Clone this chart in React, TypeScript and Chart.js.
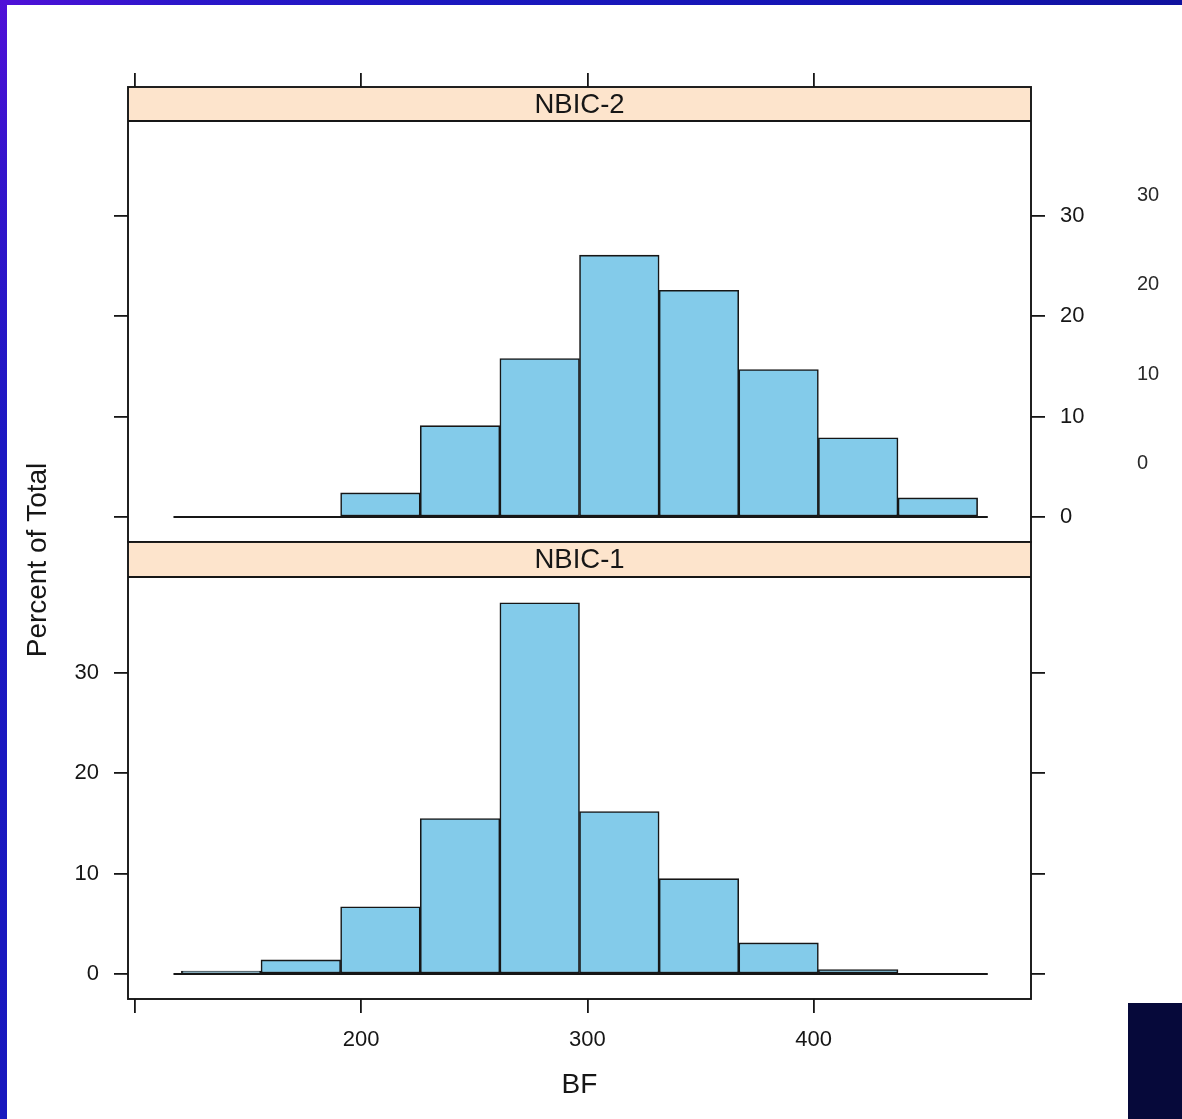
import React, { useEffect, useRef } from 'react';
import { Chart, registerables } from 'chart.js';

Chart.register(...registerables);

// ---- data ----
const BIN_EDGES = [120.5, 155.7, 190.9, 226.1, 261.3, 296.5, 331.7, 366.9, 402.1, 437.3, 472.5];
const NBIC2_PERCENT = [0, 0, 2.4, 9.1, 15.8, 26.1, 22.6, 14.7, 7.9, 1.9];
const NBIC1_PERCENT = [0.3, 1.4, 6.7, 15.5, 37.0, 16.2, 9.5, 3.1, 0.45, 0];
const BASELINE_RANGE = [117, 477];
const X_TICKS = [100, 200, 300, 400];
const X_TICK_LABELS = ['', '200', '300', '400'];
const Y_TICKS = [0, 10, 20, 30];
const PANEL_LABELS = ['NBIC-2', 'NBIC-1'];
const X_TITLE = 'BF';
const Y_TITLE = 'Percent of Total';
const GHOST_TICK_LABELS = ['30', '20', '10', '0'];

const FONT = '"Liberation Sans", Arial, Helvetica, sans-serif';
const INK = '#161616';
const BAR_FILL = '#83CBEA';
const STRIP_FILL = '#FDE4CC';

const W = 1182;
const H = 1119;

const latticePlugin = {
  id: 'lattice',
  afterDatasetsDraw(chart: any, _args: any, opts: any) {
    const { ctx, chartArea: a } = chart;
    ctx.save();
    const sh = opts.stripHeight;
    ctx.fillStyle = STRIP_FILL;
    ctx.fillRect(a.left, a.top, a.right - a.left, sh);
    ctx.strokeStyle = INK;
    ctx.lineWidth = 1.9;
    ctx.beginPath();
    ctx.moveTo(a.left, a.top + sh);
    ctx.lineTo(a.right, a.top + sh);
    ctx.stroke();
    ctx.strokeRect(a.left, a.top, a.right - a.left, a.bottom - a.top);
    ctx.fillStyle = INK;
    ctx.font = `27.5px ${FONT}`;
    ctx.textAlign = 'center';
    ctx.textBaseline = 'middle';
    ctx.fillText(opts.label, (a.left + a.right) / 2, a.top + sh / 2 + 1);
    ctx.restore();
  },
  afterDraw(chart: any, _args: any, opts: any) {
    if (!opts.extras) return;
    const { ctx } = chart;
    ctx.save();
    ctx.fillStyle = INK;
    ctx.font = `28px ${FONT}`;
    ctx.textAlign = 'center';
    ctx.textBaseline = 'middle';
    ctx.translate(38, 560);
    ctx.rotate(-Math.PI / 2);
    ctx.fillText(Y_TITLE, 0, 0);
    ctx.restore();

    ctx.save();
    ctx.fillStyle = '#2a2a2a';
    ctx.font = `20px ${FONT}`;
    ctx.textAlign = 'left';
    ctx.textBaseline = 'middle';
    GHOST_TICK_LABELS.forEach((t, i) => {
      ctx.fillText(t, 1137, 195 + i * 89.5);
    });
    ctx.restore();
  },
};

function tickMarkGrid() {
  return {
    drawOnChartArea: false,
    drawTicks: true,
    tickLength: 14,
    color: INK,
    lineWidth: 1.8,
    offset: false,
  };
}

function makeConfig(isTop: boolean): any {
  const values = isTop ? NBIC2_PERCENT : NBIC1_PERCENT;
  const centers = values.map((_, i) => (BIN_EDGES[i] + BIN_EDGES[i + 1]) / 2);
  // pixel layout of the panel frame
  const areaTop = isTop ? 87 : 542;
  const areaBottom = isTop ? 542 : 999;
  const zeroPx = isTop ? 517 : 974;
  const pxPerUnit = 10.033;
  const yMin = -(areaBottom - zeroPx) / pxPerUnit;
  const yMax = (zeroPx - areaTop) / pxPerUnit;
  const xMin = 96.9;
  const xMax = 496.1;
  const leftW = 128;
  const rightW = W - 1031;

  const yTicks = (s: any) => {
    s.ticks = Y_TICKS.map((v) => ({ value: v }));
  };
  const tickFont = { family: FONT, size: 22 };

  return {
    type: 'bar',
    data: {
      datasets: [
        {
          type: 'line',
          data: BASELINE_RANGE.map((x) => ({ x, y: 0 })),
          borderColor: INK,
          borderWidth: 1.8,
          pointRadius: 0,
          order: 0,
        },
        {
          type: 'bar',
          data: centers.map((x, i) => ({ x, y: values[i] })),
          backgroundColor: BAR_FILL,
          borderColor: INK,
          borderWidth: 1.6,
          borderSkipped: false,
          barPercentage: 1,
          categoryPercentage: 1,
          order: 1,
        },
      ],
    },
    options: {
      responsive: false,
      animation: false,
      events: [],
      layout: {
        padding: isTop
          ? { left: 0, right: 0, top: 0, bottom: H - areaBottom }
          : { left: 0, right: 0, top: areaTop, bottom: 0 },
      },
      plugins: {
        legend: { display: false },
        tooltip: { enabled: false },
        lattice: {
          label: isTop ? PANEL_LABELS[0] : PANEL_LABELS[1],
          stripHeight: isTop ? 34 : 35,
          extras: !isTop,
        },
      },
      scales: {
        x: {
          type: 'linear',
          position: isTop ? 'top' : 'bottom',
          min: xMin,
          max: xMax,
          offset: false,
          afterBuildTicks: (s: any) => {
            s.ticks = X_TICKS.map((v) => ({ value: v }));
          },
          afterFit: (s: any) => {
            s.height = isTop ? areaTop : H - areaBottom;
          },
          grid: tickMarkGrid(),
          border: { display: false },
          ticks: {
            display: !isTop,
            autoSkip: false,
            maxRotation: 0,
            padding: 14,
            color: INK,
            font: tickFont,
            callback: (_v: any, i: number) => X_TICK_LABELS[i],
          },
          title: {
            display: !isTop,
            text: X_TITLE,
            color: INK,
            font: { family: FONT, size: 28 },
            padding: { top: 0, bottom: 17 },
          },
        },
        y: {
          type: 'linear',
          position: 'left',
          min: yMin,
          max: yMax,
          afterBuildTicks: yTicks,
          afterFit: (s: any) => {
            s.width = leftW;
          },
          grid: tickMarkGrid(),
          border: { display: false },
          ticks: {
            display: !isTop,
            padding: 15,
            color: INK,
            font: tickFont,
          },
        },
        y2: {
          type: 'linear',
          position: 'right',
          min: yMin,
          max: yMax,
          afterBuildTicks: yTicks,
          afterFit: (s: any) => {
            s.width = rightW;
          },
          grid: tickMarkGrid(),
          border: { display: false },
          ticks: {
            display: isTop,
            padding: 15,
            color: INK,
            font: tickFont,
          },
        },
      },
    },
    plugins: [latticePlugin],
  };
}

export default function App() {
  const topRef = useRef<HTMLCanvasElement | null>(null);
  const botRef = useRef<HTMLCanvasElement | null>(null);

  useEffect(() => {
    const charts: Chart[] = [];
    if (topRef.current) charts.push(new Chart(topRef.current, makeConfig(true)));
    if (botRef.current) charts.push(new Chart(botRef.current, makeConfig(false)));
    return () => charts.forEach((c) => c.destroy());
  }, []);

  const abs = (extra: React.CSSProperties): React.CSSProperties => ({ position: 'absolute', ...extra });

  return (
    <div style={abs({ left: 0, top: 0, width: W, height: H, background: '#ffffff', overflow: 'hidden' })}>
      <div
        style={abs({
          left: 0,
          top: 0,
          width: W,
          height: 5,
          background: 'linear-gradient(to right, #5010D8 0%, #2C16CA 15%, #1A18BE 40%, #1414B2 75%, #10129E 100%)',
        })}
      />
      <div
        style={abs({
          left: 0,
          top: 0,
          width: 7,
          height: H,
          background: 'linear-gradient(to bottom, #5010D8 0%, #3414CC 15%, #1C18C2 40%, #1818BE 100%)',
        })}
      />
      <div style={abs({ left: 1128, top: 1003, width: W - 1128, height: H - 1003, background: '#06093A' })} />
      <canvas ref={topRef} width={W} height={H} style={abs({ left: 0, top: 0 })} />
      <canvas ref={botRef} width={W} height={H} style={abs({ left: 0, top: 0 })} />
    </div>
  );
}
